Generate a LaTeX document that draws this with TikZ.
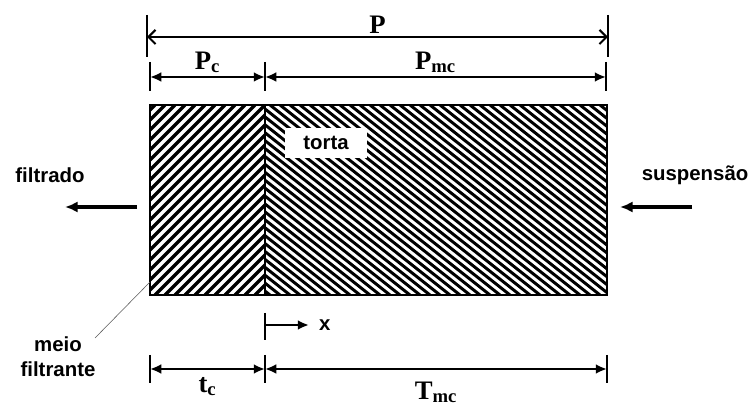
\documentclass[tikz,border=0pt]{standalone}
\usepackage{fontspec}
\setmainfont{Liberation Serif}
\setsansfont{Liberation Sans}
\usetikzlibrary{positioning,arrows.meta,calc}

\tikzset{
  dimline/.style={{Latex[length=8pt,width=7pt]}-{Latex[length=8pt,width=7pt]},line width=1.8pt},
  openline/.style={{Straight Barb[length=5pt,width=10pt]}-{Straight Barb[length=5pt,width=10pt]},line width=1.5pt},
  dimtick/.style={line width=1pt},
  flowarrow/.style={-{Latex[length=9pt,width=8pt]},line width=2.6pt},
  txtlabel/.style={font=\sffamily\bfseries\fontsize{14.5}{17.5}\selectfont,inner sep=1pt},
  dimlabel/.style={font=\bfseries\fontsize{19}{21}\selectfont,inner sep=1pt},
}

\begin{document}
\begin{tikzpicture}[x=0.025cm,y=-0.025cm]
  \useasboundingbox (0,0) rectangle (752,406);
  % corners of the filter
  \coordinate (tl) at (150,105);
  \coordinate (br) at (607,295);
  \coordinate (mt) at (265,105);
  \coordinate (mb) at (265,295);
  % hatching: filter medium and cake
  \begin{scope}
    \clip (tl) rectangle (mb);
    \foreach \i in {-45,-35,...,270}
      \draw[line width=2.4pt] (\i,295) -- ++(190,-190);
  \end{scope}
  \begin{scope}
    \clip (mt) rectangle (br);
    \foreach \i in {20,30,...,612}
      \draw[line width=2.1pt] (\i,105) -- ++(240,190);
  \end{scope}
  \draw[line width=1pt] (tl) rectangle (br);
  \draw[line width=1pt] (mt) -- (mb);
  \node[fill=white,minimum width=2.05cm,minimum height=0.75cm,txtlabel] (torta) at (326,143) {torta};

  % top dimensions
  \coordinate (pa) at (147,37);
  \coordinate (pb) at (608,37);
  \draw[dimtick] (pa) ++(0,-22) -- ++(0,42);
  \draw[dimtick] (pb) ++(0,-22) -- ++(0,42);
  \draw[openline] (pa) -- node[above=1pt,dimlabel] (plab) {P} (pb);

  \coordinate (ca) at (150,77);
  \coordinate (cm) at (265,77);
  \coordinate (cb) at (606,77);
  \foreach \c in {ca,cm,cb}
    \draw[dimtick] (\c) ++(0,-15) -- ++(0,29);
  \draw[dimline] (ca) -- node[above=1pt,dimlabel] (pclab) {P\textsubscript{c}} (cm);
  \draw[dimline] (cm) -- node[above=1pt,dimlabel] (pmclab) {P\textsubscript{mc}} (cb);

  % bottom dimensions
  \coordinate (ta) at (150,369);
  \coordinate (tm) at (265,369);
  \coordinate (tb) at (607,369);
  \foreach \c in {ta,tm,tb}
    \draw[dimtick] (\c) ++(0,-14) -- ++(0,28);
  \draw[dimline] (ta) -- node[below=4pt,dimlabel] (tclab) {t\textsubscript{c}} (tm);
  \draw[dimline] (tm) -- node[below=7pt,dimlabel] (tmclab) {T\textsubscript{mc}} (tb);

  % x axis
  \coordinate (x0) at (265,325);
  \coordinate (x1) at (309,325);
  \draw[dimtick] (x0) ++(0,-12) -- ++(0,27);
  \draw[-{Latex[length=8pt,width=7pt]},line width=2pt] (x0) -- (x1);
  \node[txtlabel,right=6pt of x1] (xlab) {x};

  % flow arrows
  \coordinate (fa) at (137,207);
  \coordinate (fb) at (65,207);
  \draw[flowarrow] (fa) -- (fb);
  \node[txtlabel] (filt) at (50,175) {filtrado};
  \coordinate (sa) at (692,207);
  \coordinate (sb) at (620,207);
  \draw[flowarrow] (sa) -- (sb);
  \node[txtlabel,anchor=east] (susp) at (750,175) {suspensão};

  % filter medium label
  \node[txtlabel,align=center] (meio) at (58,357) {meio\\filtrante};
  \coordinate (mp) at (150,282);
  \draw[line width=0.4pt,gray!70!black] (95,338) -- (mp);
\end{tikzpicture}
\end{document}
